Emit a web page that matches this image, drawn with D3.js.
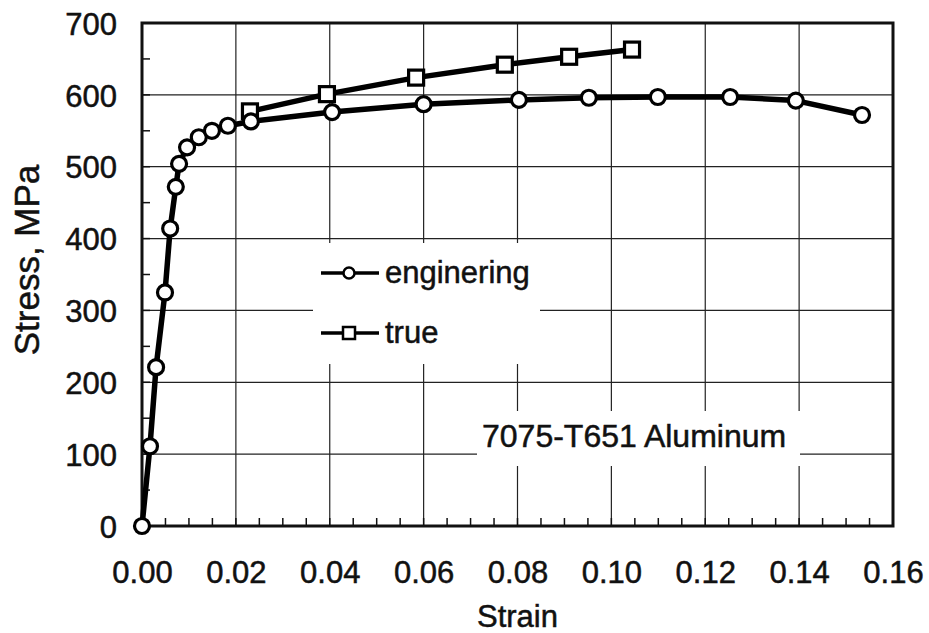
<!DOCTYPE html>
<html>
<head>
<meta charset="utf-8">
<script src="https://cdn.jsdelivr.net/npm/d3@7/dist/d3.min.js"></script>
<style>
  html, body { margin: 0; padding: 0; background: #fff; }
  svg { display: block; }
  text { font-family: "Liberation Sans", Arial, Helvetica, sans-serif; fill: #111; stroke: #111; stroke-width: 0.5px; }
</style>
</head>
<body>
<div id="chart"></div>
<script>
// ---- data ----
const engStrain = [0, 0.0017, 0.0030, 0.0049, 0.0060, 0.0072, 0.0079, 0.0096, 0.0121, 0.0149, 0.0183, 0.0232, 0.0405, 0.0600, 0.0803, 0.0952, 0.1099, 0.1253, 0.1393, 0.1534];
const engStress = [0, 111, 221, 325, 414, 472, 504, 527, 541, 550, 557, 563, 576, 587, 593, 596, 597, 597, 592, 572];
const trueStrain = [0.0230, 0.0394, 0.0584, 0.0773, 0.0910, 0.1044];
const trueStress = [577, 601, 624, 642, 653, 663];
const xTicks = [0, 0.02, 0.04, 0.06, 0.08, 0.10, 0.12, 0.14, 0.16];
const yTicks = [0, 100, 200, 300, 400, 500, 600, 700];
const seriesNames = ["enginering", "true"];
const annotation = "7075-T651 Aluminum";
const xTitle = "Strain";
const yTitle = "Stress, MPa";

const W = 929, H = 633;
const L = 142, R = 893, T = 23, B = 526;

const svg = d3.select("#chart").append("svg").attr("width", W).attr("height", H);

const x = d3.scaleLinear().domain([0, 0.16]).range([L, R]);
const y = d3.scaleLinear().domain([0, 700]).range([B, T]);

// grid lines
const g = svg.append("g");
g.selectAll(".vg").data(xTicks.slice(1, -1)).join("line")
  .attr("x1", d => x(d)).attr("x2", d => x(d)).attr("y1", T).attr("y2", B)
  .attr("stroke", "#222").attr("stroke-width", 1.2);
g.selectAll(".hg").data(yTicks.slice(1, -1)).join("line")
  .attr("y1", d => y(d)).attr("y2", d => y(d)).attr("x1", L).attr("x2", R)
  .attr("stroke", "#222").attr("stroke-width", 1.2);

// minor ticks (inside)
const xMinor = d3.range(0, 0.1601, 0.005);
g.selectAll(".xm").data(xMinor).join("line")
  .attr("x1", d => x(d)).attr("x2", d => x(d)).attr("y1", B).attr("y2", B - 8)
  .attr("stroke", "#111").attr("stroke-width", 1.5);
const yMinor = d3.range(0, 701, 50);
g.selectAll(".ym").data(yMinor).join("line")
  .attr("y1", d => y(d)).attr("y2", d => y(d)).attr("x1", L).attr("x2", L + 8)
  .attr("stroke", "#111").attr("stroke-width", 1.5);

// white boxes (legend and annotation)
svg.append("rect").attr("x", 313).attr("y", 243).attr("width", 227).attr("height", 121).attr("fill", "#fff");
svg.append("rect").attr("x", 477).attr("y", 411).attr("width", 323).attr("height", 55).attr("fill", "#fff");

// frame
svg.append("rect").attr("x", L).attr("y", T).attr("width", R - L).attr("height", B - T)
  .attr("fill", "none").attr("stroke", "#111").attr("stroke-width", 3);

// axes labels via d3 axes
const xAxis = d3.axisBottom(x).tickValues(xTicks).tickFormat(d3.format(".2f")).tickSize(0).tickPadding(0);
const xa = svg.append("g").attr("transform", `translate(0,${B})`).call(xAxis);
xa.select(".domain").remove();
xa.selectAll("text").attr("dy", null).attr("y", 57).style("font-size", "31px")
  .style("font-family", "'Liberation Sans', Arial, sans-serif").attr("fill", "#111");

const yAxis = d3.axisLeft(y).tickValues(yTicks).tickFormat(d3.format("d")).tickSize(0).tickPadding(0);
const ya = svg.append("g").attr("transform", `translate(${L},0)`).call(yAxis);
ya.select(".domain").remove();
ya.selectAll("text").attr("x", -25).attr("dy", "0.36em").style("font-size", "31px")
  .style("font-family", "'Liberation Sans', Arial, sans-serif").attr("fill", "#111");

svg.append("text").attr("x", (L + R) / 2).attr("y", 627).attr("text-anchor", "middle")
  .style("font-size", "31px").text(xTitle);
svg.append("text").attr("transform", "translate(39,260) rotate(-90)").attr("text-anchor", "middle")
  .style("font-size", "35px").text(yTitle);

// data lines
const eng = engStrain.map((s, i) => [s, engStress[i]]);
const tru = trueStrain.map((s, i) => [s, trueStress[i]]);
const line = d3.line().x(d => x(d[0])).y(d => y(d[1]));

svg.append("path").datum(eng).attr("d", line).attr("fill", "none").attr("stroke", "#000").attr("stroke-width", 5.5).attr("stroke-linejoin", "round");
svg.append("path").datum(tru).attr("d", line).attr("fill", "none").attr("stroke", "#000").attr("stroke-width", 5.5).attr("stroke-linejoin", "round");

svg.selectAll(".sq").data(tru).join("rect")
  .attr("x", d => x(d[0]) - 7.5).attr("y", d => y(d[1]) - 7.5).attr("width", 15).attr("height", 15)
  .attr("fill", "#fff").attr("stroke", "#000").attr("stroke-width", 3.2);
svg.selectAll(".ci").data(eng).join("circle")
  .attr("cx", d => x(d[0])).attr("cy", d => y(d[1])).attr("r", 7.5)
  .attr("fill", "#fff").attr("stroke", "#000").attr("stroke-width", 3.2);

// legend
const lg = svg.append("g");
const legY = [273, 333];
seriesNames.forEach((name, i) => {
  lg.append("line").attr("x1", 321).attr("x2", 379).attr("y1", legY[i]).attr("y2", legY[i])
    .attr("stroke", "#000").attr("stroke-width", 3.5);
  if (i === 0) {
    lg.append("circle").attr("cx", 349).attr("cy", legY[i]).attr("r", 5.5)
      .attr("fill", "#fff").attr("stroke", "#000").attr("stroke-width", 2.5);
  } else {
    lg.append("rect").attr("x", 343).attr("y", legY[i] - 6).attr("width", 12).attr("height", 12)
      .attr("fill", "#fff").attr("stroke", "#000").attr("stroke-width", 2.5);
  }
  lg.append("text").attr("x", 385).attr("y", legY[i] + 10).style("font-size", "31px").text(name);
});

// annotation
svg.append("text").attr("x", 482).attr("y", 447).style("font-size", "32px").text(annotation);
</script>
</body>
</html>
